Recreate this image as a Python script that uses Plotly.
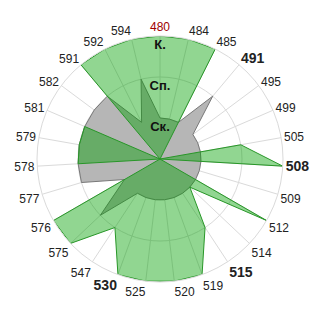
import plotly.graph_objects as go

categories = ["480", "484", "485", "491", "495", "499", "505", "508", "509", "512",
              "514", "515", "519", "520", "525", "530", "547", "575", "576", "577",
              "578", "579", "581", "582", "591", "592", "594"]
# radial levels: 1 = Ск., 2 = Сп., 3 = К.
green_values = [3, 3, 3, 0, 0, 0, 2, 3, 0, 3,
                1, 2, 3, 3, 3, 3, 2, 3, 3, 0,
                2, 2, 2, 0, 3, 3, 3]
grey_values = [1, 1, 1, 2, 1, 1, 1, 1, 1, 1,
               1, 1, 1, 1, 1, 1, 1, 2, 1, 2,
               2, 2, 2, 2, 2, 1, 2]
level_labels = ["Ск.", "Сп.", "К."]
level_values = [1, 2, 3]
bold_cats = {"491", "508", "515", "530"}
red_cats = {"480"}

def tick_text(c):
    if c in red_cats:
        return f"<span style='color:#a00000'>{c}</span>"
    if c in bold_cats:
        return f"<span style='font-size:14px'><b>{c}</b></span>"
    return c

closed_theta = categories + categories[:1]

fig = go.Figure()
fig.add_trace(go.Scatterpolar(
    r=grey_values + grey_values[:1], theta=closed_theta,
    mode="lines", fill="toself",
    fillcolor="rgb(182,182,182)",
    line=dict(color="rgb(120,120,120)", width=1),
    hoverinfo="skip", showlegend=False))
fig.add_trace(go.Scatterpolar(
    r=green_values + green_values[:1], theta=closed_theta,
    mode="lines", fill="toself",
    fillcolor="rgba(0,160,0,0.43)",
    line=dict(color="rgb(40,150,40)", width=1),
    hoverinfo="skip", showlegend=False))
fig.add_trace(go.Scatterpolar(
    r=[v - 0.24 for v in level_values], theta=[categories[0]] * 3,
    mode="text", text=[f"<b>{t}</b>" for t in level_labels],
    textfont=dict(family="Liberation Sans, Arial", size=13, color="#111"),
    textposition="middle center",
    hoverinfo="skip", showlegend=False))

fig.update_layout(
    width=320, height=320,
    margin=dict(l=37, r=37, t=36, b=38),
    paper_bgcolor="white",
    font=dict(family="Liberation Sans, Arial", size=12, color="#222"),
    polar=dict(
        bgcolor="white",
        radialaxis=dict(range=[0, 3], tickvals=level_values, showticklabels=False,
                        ticks="", showline=False, gridcolor="rgb(218,218,218)",
                        gridwidth=1, layer="above traces"),
        angularaxis=dict(categoryorder="array", categoryarray=categories,
                         tickvals=categories,
                         ticktext=[tick_text(c) for c in categories],
                         direction="clockwise", rotation=90,
                         ticks="", showline=True, linecolor="rgb(218,218,218)",
                         gridcolor="rgb(218,218,218)", layer="above traces",
                         tickfont=dict(size=12, color="#222")),
    ),
)
fig.write_html("out.html")
